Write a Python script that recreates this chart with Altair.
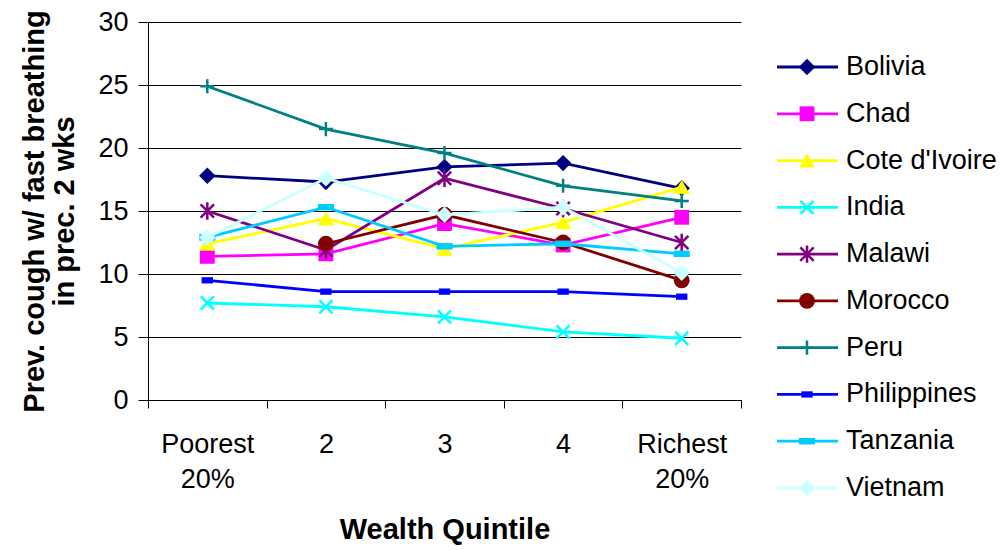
import altair as alt
import pandas as pd

# Wealth quintiles (x categories) and countries (series)
quintiles = ["Poorest 20%", "2", "3", "4", "Richest 20%"]
countries = ["Bolivia", "Chad", "Cote d'Ivoire", "India", "Malawi",
             "Morocco", "Peru", "Philippines", "Tanzania", "Vietnam"]

# Prevalence of cough with fast breathing in preceding 2 weeks (%)
bolivia = [17.8, 17.3, 18.5, 18.8, 16.8]
chad = [11.4, 11.6, 14.0, 12.3, 14.5]
cote_divoire = [12.4, 14.4, 12.0, 14.1, 16.9]
india = [7.7, 7.4, 6.6, 5.4, 4.9]
malawi = [15.0, 11.9, 17.6, 15.2, 12.5]
morocco = [None, 12.4, 14.7, 12.5, 9.5]
peru = [24.9, 21.5, 19.6, 17.0, 15.8]
philippines = [9.5, 8.6, 8.6, 8.6, 8.2]
tanzania = [12.9, 15.3, 12.2, 12.4, 11.6]
vietnam = [12.9, 17.6, 14.7, 15.3, 10.1]

series = [bolivia, chad, cote_divoire, india, malawi,
          morocco, peru, philippines, tanzania, vietnam]

# Marker paths on a [-1, 1] box
X_PATH = "M-1,-1L1,1M-1,1L1,-1"
STAR_PATH = "M-1,-1L1,1M-1,1L1,-1M0,-1.3L0,1.3"
PLUS_PATH = "M-1,0L1,0M0,-1L0,1"
SMALL_BAR = "M-1,-0.55L1,-0.55L1,0.55L-1,0.55Z"
WIDE_BAR = "M-1,-0.4L1,-0.4L1,0.4L-1,0.4Z"

# color, shape, size, filled
styles = {
    "Bolivia": ("#000080", "diamond", 270, True),
    "Chad": ("#FF00FF", "square", 220, True),
    "Cote d'Ivoire": ("#FFFF00", "triangle-up", 260, True),
    "India": ("#00FFFF", X_PATH, 170, False),
    "Malawi": ("#800080", STAR_PATH, 180, False),
    "Morocco": ("#800000", "circle", 250, True),
    "Peru": ("#008080", PLUS_PATH, 200, False),
    "Philippines": ("#0000FF", SMALL_BAR, 130, True),
    "Tanzania": ("#00CCFF", WIDE_BAR, 260, True),
    "Vietnam": ("#CCFFFF", "diamond", 270, True),
}

FONT = "Liberation Sans"

x_enc = alt.X(
    "quintile:N",
    sort=quintiles,
    scale=alt.Scale(type="band", domain=quintiles, paddingInner=0, paddingOuter=0),
    axis=alt.Axis(
        title="Wealth Quintile",
        labelAngle=0,
        labelExpr="split(datum.label, ' ')",
        labelFontSize=27,
        labelLineHeight=35,
        labelPadding=23,
        labelColor="black",
        labelOverlap=False,
        tickSize=8,
        tickBand="extent",
        tickColor="black",
        domainColor="black",
        grid=False,
        titleFontSize=29,
        titleFontWeight="bold",
        titleColor="black",
        titleY=138,
        titleBaseline="alphabetic",
    ),
)

y_enc = alt.Y(
    "value:Q",
    scale=alt.Scale(domain=[0, 30]),
    axis=alt.Axis(
        values=[0, 5, 10, 15, 20, 25, 30],
        grid=True,
        gridColor="black",
        gridWidth=1,
        tickColor="black",
        tickSize=10,
        domainColor="black",
        labelFontSize=27,
        labelColor="black",
        labelPadding=10,
        title=["Prev. cough w/ fast breathing", "in prec. 2 wks"],
        titleFontSize=29,
        titleFontWeight="bold",
        titleColor="black",
        titleAngle=270,
        titleAlign="center",
        titleBaseline="alphabetic",
        titleLineHeight=30,
        titleX=-105,
        titleY=189,
    ),
)


def point_mark(name):
    color, shape, size, filled = styles[name]
    if filled:
        return alt.Chart().mark_point(shape=shape, size=size, filled=True,
                                      color=color, opacity=1)
    return alt.Chart().mark_point(shape=shape, size=size, filled=False,
                                  color=color, strokeWidth=2.5, opacity=1)


# Plot: one line + markers per country, drawn in series order
plot_layers = []
for name, vals in zip(countries, series):
    df = pd.DataFrame(
        [{"quintile": q, "value": v} for q, v in zip(quintiles, vals) if v is not None]
    )
    color = styles[name][0]
    line = alt.Chart(df).mark_line(color=color, strokeWidth=2.8).encode(x=x_enc, y=y_enc)
    pts = point_mark(name).properties(data=df).encode(x=x_enc, y=y_enc)
    plot_layers += [line, pts]

plot = alt.layer(*plot_layers)

# Legend: sample line, marker and name per country
legend_df = pd.DataFrame({"country": countries})
ly = alt.Y(
    "country:N",
    sort=countries,
    scale=alt.Scale(type="point", domain=countries, range=[45, 466], padding=0),
    axis=None,
)

legend_layers = []
for name in countries:
    color = styles[name][0]
    sub = legend_df[legend_df["country"] == name]
    legend_layers.append(
        alt.Chart(sub).mark_rule(color=color, strokeWidth=2.8).encode(
            x=alt.value(629), x2=alt.value(690), y=ly
        )
    )
    legend_layers.append(
        point_mark(name).properties(data=sub).encode(x=alt.value(659), y=ly)
    )
legend_layers.append(
    alt.Chart(legend_df).mark_text(
        align="left", baseline="middle", fontSize=27, font=FONT, color="black"
    ).encode(x=alt.value(698), y=ly, text="country:N")
)
legend = alt.layer(*legend_layers)

chart = (
    alt.layer(plot, legend)
    .resolve_scale(y="independent")
    .properties(
        width=593,
        height=378,
        autosize=alt.AutoSizeParams(type="none"),
        padding={"left": 148, "top": 22, "right": 264, "bottom": 150},
        background="white",
    )
    .configure(font=FONT)
    .configure_view(stroke=None)
)

chart.save("out.html", embed_options={"renderer": "svg", "actions": False})
